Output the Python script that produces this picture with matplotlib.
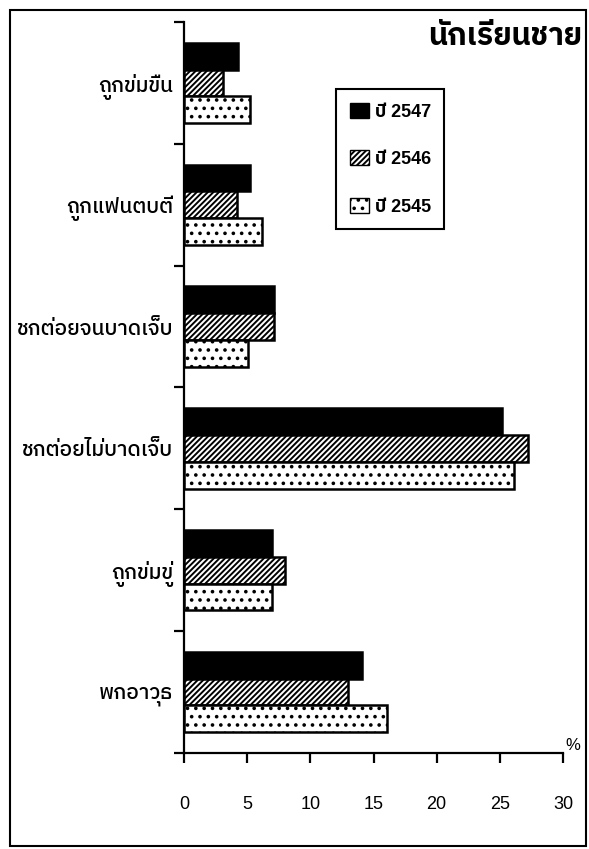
import matplotlib
matplotlib.use("Agg")
import matplotlib.pyplot as plt
import numpy as np
from matplotlib.patches import Rectangle, Patch

# ข้อมูล (ร้อยละ) นักเรียนชาย
categories = ["ถูกข่มขืน", "ถูกแฟนตบตี", "ชกต่อยจนบาดเจ็บ",
              "ชกต่อยไม่บาดเจ็บ", "ถูกข่มขู่", "พกอาวุธ"]
y2547 = [4.3, 5.2, 7.1, 25.2, 7.0, 14.1]
y2546 = [3.1, 4.2, 7.1, 27.2, 8.0, 13.0]
y2545 = [5.2, 6.2, 5.1, 26.1, 7.0, 16.1]
series_labels = ["ปี 2547", "ปี 2546", "ปี 2545"]
xticks = [0, 5, 10, 15, 20, 25, 30]

FONT = ["Liberation Sans", "IBM Plex Sans Thai"]
plt.rcParams["font.family"] = FONT
plt.rcParams["hatch.linewidth"] = 1.4

fig = plt.figure(figsize=(5.89, 8.49), dpi=100)
ax = fig.add_axes([0.3124, 0.1131, 0.6435, 0.861])

n = len(categories)
# กลุ่มบนสุดอยู่ด้านบน
pos = np.arange(n)[::-1] + 0.5
h = 0.22
ax.barh(pos + h, y2547, height=h, color="black", edgecolor="black", linewidth=1.8)
ax.barh(pos, y2546, height=h, color="white", edgecolor="black", linewidth=1.8, hatch="//////")
ax.barh(pos - h, y2545, height=h, color="white", edgecolor="black", linewidth=1.8, hatch="..")

ax.set_xlim(0, 30)
ax.set_ylim(0, n)
for s in ["top", "right"]:
    ax.spines[s].set_visible(False)
for s in ["left", "bottom"]:
    ax.spines[s].set_linewidth(1.6)

ax.set_xticks(xticks)
ax.set_xticklabels([str(t) for t in xticks], fontsize=13)
ax.tick_params(axis="x", direction="out", length=7, width=1.6, pad=24)
ax.set_yticks(np.arange(n + 1))
ax.set_yticklabels([])
ax.tick_params(axis="y", which="major", direction="out", length=7, width=1.6)
ax.set_yticks(pos, minor=True)
ax.set_yticklabels(categories, minor=True, fontsize=15, fontweight="medium")
ax.tick_params(axis="y", which="minor", length=0, pad=8)

ax.text(1.005, 0.0, "%", transform=ax.transAxes, fontsize=12, ha="left", va="bottom")

fig.text(0.988, 0.957, "นักเรียนชาย", fontsize=22, fontweight="bold", ha="right", va="center")

handles = [Patch(facecolor="black", edgecolor="black"),
           Patch(facecolor="white", edgecolor="black", hatch="//////"),
           Patch(facecolor="white", edgecolor="black", hatch="..")]
leg = ax.legend(handles, series_labels, loc="upper left", bbox_to_anchor=(0.401, 0.908),
                prop={"size": 13, "weight": "bold"},
                handlelength=1.1, handleheight=0.9, handletextpad=0.3,
                labelspacing=1.65, borderpad=0.75, borderaxespad=0, fancybox=False,
                framealpha=1, edgecolor="black")
leg.get_frame().set_linewidth(1.5)

# กรอบรอบภาพ
fig.patches.append(Rectangle((10 / 589, 3 / 849), 576 / 589, 836 / 849, transform=fig.transFigure,
                             fill=False, edgecolor="black", linewidth=1.5))

fig.savefig("out.png", dpi=100)
